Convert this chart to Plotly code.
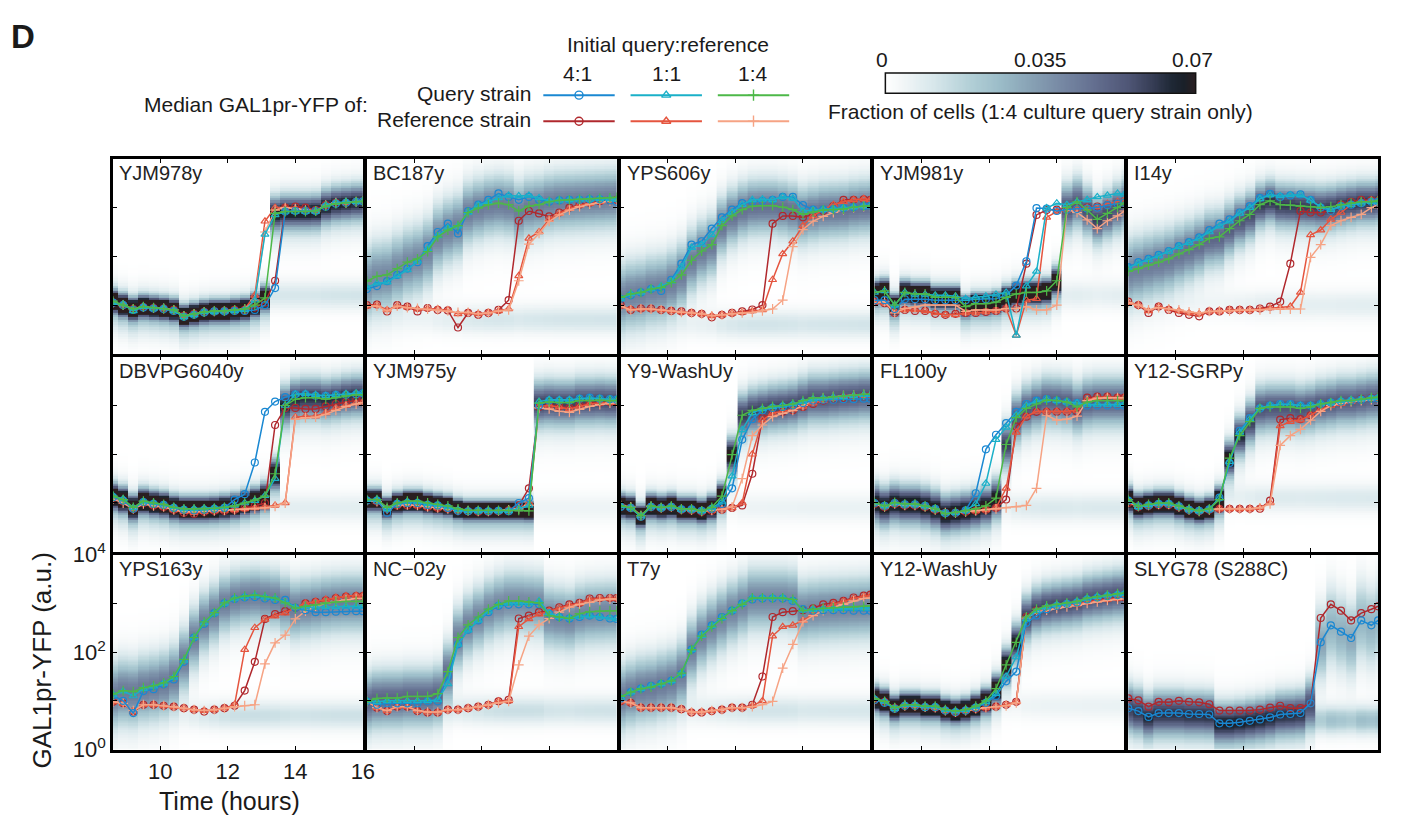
import numpy as np
import plotly.graph_objects as go

W, H = 1403, 835
FONT = "Liberation Sans, Arial, Helvetica, sans-serif"

# sampling times (hours)
TIME_H = [8.6, 8.9, 9.2, 9.5, 9.8, 10.1, 10.4, 10.7, 11.0, 11.3, 11.6, 11.9, 12.2,
          12.5, 12.8, 13.1, 13.4, 13.7, 14.0, 14.3, 14.6, 14.9, 15.2, 15.5, 15.8, 16.0]

STRAINS = ["YJM978y", "BC187y", "YPS606y", "YJM981y", "I14y",
           "DBVPG6040y", "YJM975y", "Y9-WashUy", "FL100y", "Y12-SGRPy",
           "YPS163y", "NC\u221202y", "T7y", "Y12-WashUy", "SLYG78 (S288C)"]

# median GAL1pr-YFP, log10 a.u. -- query strain, initial ratio 4:1
QUERY_4_1 = {
    "YJM978y": [1.05, 1.0, 0.9, 0.95, 0.93, 0.92, 0.88, 0.76, 0.8, 0.85, 0.87, 0.87, 0.88, 0.88, 0.9, 1.0, 1.35, 2.92, 2.93, 2.93, 2.93, 3.02, 3.08, 3.1, 3.12, 3.13],
    "BC187y": [1.33, 1.39, 1.49, 1.62, 1.75, 1.88, 2.21, 2.5, 2.67, 2.47, 2.93, 3.06, 3.16, 3.29, 3.22, 3.16, 3.22, 3.16, 3.12, 3.15, 3.16, 3.16, 3.17, 3.17, 3.15, 3.12],
    "YPS606y": [1.13, 1.2, 1.26, 1.33, 1.29, 1.52, 1.85, 2.24, 2.31, 2.57, 2.8, 2.96, 3.09, 3.12, 3.14, 3.16, 3.22, 3.22, 3.05, 2.96, 2.96, 2.97, 2.99, 3.01, 3.03, 3.04],
    "YJM981y": [1.1, 1.1, 0.92, 1.12, 1.12, 1.12, 1.1, 1.1, 1.1, 1.1, 1.12, 1.12, 1.13, 1.2, 1.4, 1.9, 2.99, 2.98, 2.93, 2.96, 2.97, 2.98, 3.0, 3.05, 3.08, 3.1],
    "I14y": [1.78, 1.88, 1.95, 2.03, 2.11, 2.21, 2.29, 2.39, 2.54, 2.67, 2.76, 2.9, 3.03, 3.2, 3.28, 3.22, 3.25, 3.27, 3.16, 3.0, 2.93, 3.03, 3.06, 3.09, 3.12, 3.12],
    "DBVPG6040y": [1.12, 1.05, 0.88, 1.02, 0.98, 0.96, 0.9, 0.86, 0.85, 0.86, 0.88, 0.9, 1.07, 1.18, 1.83, 2.87, 3.08, 3.17, 3.23, 3.23, 3.2, 3.2, 3.22, 3.22, 3.23, 3.25],
    "YJM975y": [1.05, 1.05, 0.8, 0.98, 1.0, 1.0, 0.96, 0.95, 0.9, 0.84, 0.83, 0.84, 0.83, 0.84, 0.83, 1.0, 1.1, 3.0, 3.1, 3.1, 3.1, 3.14, 3.16, 3.14, 3.13, 3.12],
    "Y9-WashUy": [0.92, 0.9, 0.72, 0.92, 0.9, 0.92, 0.87, 0.87, 0.84, 0.88, 0.98, 1.3, 2.3, 2.72, 2.9, 2.95, 2.97, 3.0, 3.05, 3.1, 3.12, 3.12, 3.13, 3.13, 3.14, 3.14],
    "FL100y": [1.0, 0.94, 1.0, 0.97, 0.97, 0.94, 0.88, 0.79, 0.8, 0.85, 1.2, 2.1, 2.4, 2.64, 2.87, 3.03, 3.1, 3.13, 3.1, 3.07, 3.05, 3.0, 3.0, 3.0, 3.0, 3.0],
    "Y12-SGRPy": [1.05, 0.93, 0.95, 0.98, 0.98, 0.93, 0.86, 0.84, 0.87, 1.11, 1.82, 2.48, 2.74, 2.94, 3.0, 3.03, 3.03, 3.0, 3.0, 3.03, 3.06, 3.08, 3.1, 3.12, 3.14, 3.15],
    "YPS163y": [1.11, 1.0, 0.75, 1.2, 1.24, 1.34, 1.44, 1.8, 2.3, 2.58, 2.8, 3.0, 3.09, 3.12, 3.13, 3.1, 3.07, 3.07, 2.91, 2.86, 2.82, 2.82, 2.83, 2.84, 2.84, 2.84],
    "NC\u221202y": [0.99, 0.92, 0.95, 0.95, 0.95, 0.95, 0.99, 0.99, 1.5, 2.16, 2.46, 2.65, 2.82, 2.95, 2.97, 2.98, 2.98, 2.98, 2.79, 2.72, 2.69, 2.72, 2.75, 2.72, 2.69, 2.68],
    "T7y": [1.05, 1.18, 1.25, 1.31, 1.35, 1.41, 1.55, 2.05, 2.36, 2.55, 2.72, 2.85, 3.0, 3.08, 3.1, 3.1, 3.1, 3.05, 2.88, 2.85, 2.86, 2.86, 2.86, 2.85, 2.85, 2.85],
    "Y12-WashUy": [1.02, 0.96, 0.84, 0.9, 0.9, 0.87, 0.87, 0.8, 0.77, 0.8, 0.86, 0.96, 1.1, 1.4, 1.6, 2.6, 2.75, 2.88, 2.95, 2.99, 3.02, 3.08, 3.12, 3.15, 3.17, 3.18],
    "SLYG78 (S288C)": [0.85, 0.79, 0.67, 0.75, 0.75, 0.75, 0.73, 0.73, 0.72, 0.54, 0.54, 0.56, 0.59, 0.62, 0.66, 0.72, 0.73, 0.75, 0.95, 2.2, 2.55, 2.42, 2.29, 2.65, 2.55, 2.65],
}

# query strain, initial ratio 1:1
QUERY_1_1 = {
    "YJM978y": [1.05, 1.02, 0.88, 0.97, 0.93, 0.94, 0.88, 0.76, 0.8, 0.86, 0.86, 0.87, 0.88, 0.9, 1.1, 2.45, 2.85, 2.92, 2.92, 2.92, 2.92, 3.05, 3.1, 3.12, 3.12, 3.13],
    "BC187y": [1.36, 1.45, 1.47, 1.6, 1.72, 1.9, 2.15, 2.42, 2.58, 2.62, 2.9, 3.05, 3.12, 3.2, 3.25, 3.24, 3.25, 3.2, 3.14, 3.15, 3.16, 3.17, 3.17, 3.18, 3.18, 3.17],
    "YPS606y": [1.13, 1.23, 1.26, 1.33, 1.39, 1.49, 1.78, 2.18, 2.24, 2.44, 2.73, 2.9, 3.06, 3.16, 3.17, 3.16, 3.22, 3.19, 2.93, 2.95, 2.96, 2.97, 2.99, 3.01, 3.03, 3.04],
    "YJM981y": [1.26, 1.29, 1.0, 1.26, 1.22, 1.22, 1.2, 1.2, 1.18, 1.13, 1.16, 1.18, 1.22, 1.26, 0.38, 1.39, 1.69, 2.99, 3.09, 3.06, 3.12, 3.16, 3.22, 3.25, 3.29, 3.27],
    "I14y": [1.76, 1.86, 1.93, 2.01, 2.1, 2.2, 2.28, 2.37, 2.5, 2.62, 2.72, 2.88, 3.0, 3.18, 3.26, 3.24, 3.26, 3.26, 3.15, 3.02, 2.96, 3.03, 3.06, 3.09, 3.12, 3.12],
    "DBVPG6040y": [1.15, 1.08, 0.9, 1.03, 1.0, 0.97, 0.92, 0.88, 0.88, 0.89, 0.9, 0.92, 0.95, 1.0, 1.05, 1.15, 1.5, 3.0, 3.23, 3.24, 3.22, 3.2, 3.22, 3.24, 3.25, 3.25],
    "YJM975y": [1.07, 1.07, 0.88, 1.0, 1.03, 1.02, 0.98, 0.96, 0.92, 0.86, 0.84, 0.84, 0.84, 0.84, 0.84, 0.88, 0.95, 3.08, 3.12, 3.12, 3.12, 3.14, 3.15, 3.14, 3.13, 3.12],
    "Y9-WashUy": [0.94, 0.9, 0.73, 0.93, 0.9, 0.93, 0.87, 0.87, 0.84, 0.9, 1.02, 1.55, 2.5, 2.85, 2.93, 2.97, 3.0, 3.03, 3.08, 3.13, 3.15, 3.17, 3.18, 3.2, 3.22, 3.22],
    "FL100y": [1.0, 0.94, 1.0, 0.97, 0.97, 0.94, 0.88, 0.79, 0.8, 0.85, 0.98, 1.4, 2.3, 2.55, 2.8, 3.0, 3.08, 3.12, 3.1, 3.07, 3.05, 3.02, 3.02, 3.02, 3.02, 3.02],
    "Y12-SGRPy": [1.06, 0.92, 0.96, 0.99, 0.99, 0.93, 0.87, 0.84, 0.87, 1.1, 1.85, 2.45, 2.72, 2.95, 3.0, 3.02, 3.02, 3.0, 3.0, 3.03, 3.06, 3.1, 3.12, 3.13, 3.15, 3.16],
    "YPS163y": [1.12, 1.2, 1.1, 1.25, 1.3, 1.36, 1.48, 1.83, 2.3, 2.6, 2.8, 3.0, 3.1, 3.14, 3.16, 3.13, 3.1, 3.03, 2.92, 2.92, 2.92, 2.93, 2.93, 2.94, 2.94, 2.94],
    "NC\u221202y": [1.0, 0.98, 1.0, 1.0, 1.0, 1.0, 1.0, 1.02, 1.35, 2.16, 2.45, 2.65, 2.84, 2.97, 3.0, 3.0, 3.0, 3.05, 2.8, 2.73, 2.7, 2.73, 2.74, 2.72, 2.7, 2.68],
    "T7y": [1.07, 1.18, 1.25, 1.3, 1.35, 1.41, 1.56, 2.05, 2.34, 2.54, 2.7, 2.85, 3.0, 3.12, 3.12, 3.12, 3.12, 3.06, 2.86, 2.87, 2.88, 2.88, 2.9, 2.9, 2.9, 2.9],
    "Y12-WashUy": [1.05, 0.99, 0.84, 0.92, 0.92, 0.89, 0.89, 0.82, 0.79, 0.82, 0.88, 0.98, 1.15, 1.5, 1.9, 2.68, 2.85, 2.93, 2.97, 3.0, 3.04, 3.1, 3.14, 3.17, 3.19, 3.2],
}

# query strain, initial ratio 1:4
QUERY_1_4 = {
    "YJM978y": [1.08, 1.0, 0.92, 0.97, 0.95, 0.93, 0.9, 0.78, 0.82, 0.86, 0.88, 0.88, 0.9, 0.92, 1.0, 1.15, 2.88, 2.92, 2.92, 2.92, 2.93, 3.03, 3.08, 3.1, 3.12, 3.13],
    "BC187y": [1.49, 1.59, 1.62, 1.75, 1.88, 1.95, 2.1, 2.4, 2.54, 2.63, 2.9, 2.99, 3.06, 3.09, 3.06, 2.93, 3.03, 3.06, 3.12, 3.15, 3.16, 3.17, 3.18, 3.19, 3.2, 3.21],
    "YPS606y": [1.16, 1.23, 1.26, 1.33, 1.36, 1.46, 1.62, 1.92, 2.11, 2.24, 2.63, 2.83, 2.96, 3.03, 3.04, 3.04, 3.01, 2.96, 2.86, 2.91, 2.95, 2.96, 2.97, 3.01, 3.03, 3.04],
    "YJM981y": [1.26, 1.29, 1.0, 1.26, 1.23, 1.23, 1.16, 1.16, 1.16, 0.97, 1.03, 1.03, 1.06, 1.16, 1.23, 1.26, 1.26, 1.29, 1.5, 3.0, 3.12, 2.95, 2.76, 2.88, 3.0, 3.09],
    "I14y": [1.69, 1.75, 1.82, 1.88, 1.95, 2.05, 2.14, 2.24, 2.37, 2.4, 2.57, 2.73, 2.86, 3.06, 3.14, 3.06, 3.05, 3.03, 3.02, 3.0, 3.02, 3.06, 3.09, 3.12, 3.12, 3.14],
    "DBVPG6040y": [1.14, 1.07, 0.91, 1.04, 1.0, 0.97, 0.91, 0.88, 0.88, 0.88, 0.89, 0.91, 0.94, 1.0, 1.06, 1.14, 1.6, 3.0, 3.13, 3.16, 3.16, 3.13, 3.16, 3.2, 3.22, 3.22],
    "YJM975y": [1.07, 1.07, 0.91, 1.0, 1.04, 1.04, 1.0, 0.97, 0.94, 0.88, 0.85, 0.85, 0.85, 0.85, 0.85, 0.85, 0.84, 3.05, 3.07, 3.06, 3.06, 3.1, 3.1, 3.11, 3.1, 3.1],
    "Y9-WashUy": [0.94, 0.91, 0.74, 0.94, 0.91, 0.94, 0.88, 0.88, 0.84, 0.91, 1.14, 1.99, 2.8, 2.9, 2.94, 2.98, 3.0, 3.03, 3.1, 3.16, 3.16, 3.18, 3.2, 3.21, 3.23, 3.23],
    "FL100y": [1.01, 0.94, 1.01, 0.98, 0.98, 0.94, 0.88, 0.78, 0.81, 0.84, 0.88, 0.94, 1.1, 2.2, 2.75, 2.94, 3.03, 3.11, 3.1, 3.07, 2.97, 3.07, 3.1, 3.1, 3.1, 3.1],
    "Y12-SGRPy": [1.07, 0.94, 0.97, 1.0, 1.0, 0.94, 0.88, 0.84, 0.88, 1.07, 1.92, 2.38, 2.67, 2.94, 2.97, 2.97, 2.97, 2.94, 2.97, 3.03, 3.06, 3.1, 3.1, 3.13, 3.16, 3.17],
    "YPS163y": [1.14, 1.21, 1.19, 1.27, 1.31, 1.37, 1.5, 1.85, 2.3, 2.62, 2.81, 3.01, 3.11, 3.15, 3.17, 3.14, 3.11, 3.01, 2.9, 2.94, 2.97, 3.01, 3.03, 3.04, 3.04, 3.04],
    "NC\u221202y": [0.99, 1.05, 1.06, 1.06, 1.09, 1.09, 1.09, 1.15, 1.6, 2.3, 2.56, 2.72, 2.88, 2.98, 3.05, 3.05, 3.03, 3.01, 2.75, 2.72, 2.69, 2.79, 2.83, 2.84, 2.85, 2.85],
    "T7y": [1.09, 1.18, 1.25, 1.28, 1.35, 1.41, 1.57, 2.05, 2.33, 2.52, 2.69, 2.85, 2.98, 3.11, 3.11, 3.11, 3.11, 3.08, 2.85, 2.88, 2.9, 2.91, 2.92, 2.93, 2.94, 2.95],
    "Y12-WashUy": [1.05, 0.99, 0.86, 0.92, 0.92, 0.89, 0.89, 0.82, 0.79, 0.82, 0.89, 1.0, 1.25, 1.74, 2.2, 2.72, 2.88, 2.95, 2.98, 3.01, 3.04, 3.11, 3.14, 3.17, 3.2, 3.21],
}

# reference strain, initial ratio 4:1
REF_4_1 = {
    "YJM978y": [1.05, 1.0, 0.92, 0.96, 0.94, 0.93, 0.9, 0.78, 0.82, 0.86, 0.87, 0.88, 0.9, 0.9, 0.95, 1.05, 1.5, 3.0, 3.02, 3.0, 2.95, 3.05, 3.1, 3.1, 3.12, 3.13],
    "BC187y": [1.0, 1.01, 0.87, 1.0, 0.97, 0.87, 0.94, 0.9, 0.89, 0.54, 0.84, 0.8, 0.84, 0.9, 1.1, 2.73, 2.93, 2.88, 2.82, 2.9, 3.0, 3.06, 3.1, 3.13, 3.15, 3.16],
    "YPS606y": [1.0, 0.9, 0.93, 0.93, 0.9, 0.88, 0.87, 0.84, 0.82, 0.75, 0.8, 0.84, 0.87, 0.91, 1.0, 2.67, 2.83, 2.83, 2.8, 2.86, 2.93, 3.03, 3.16, 3.16, 3.17, 3.16],
    "YJM981y": [1.07, 1.04, 0.84, 0.9, 0.88, 0.88, 0.82, 0.8, 0.82, 0.84, 0.84, 0.86, 0.88, 0.93, 0.93, 1.85, 2.85, 2.95, 2.96, 2.97, 2.98, 3.0, 3.02, 3.05, 3.08, 3.1],
    "I14y": [1.07, 1.0, 0.84, 0.97, 0.9, 0.84, 0.8, 0.77, 0.87, 0.87, 0.9, 0.9, 0.9, 0.93, 0.97, 1.07, 1.85, 2.93, 2.9, 2.9, 2.93, 3.06, 3.12, 3.16, 3.15, 3.12],
    "DBVPG6040y": [1.1, 1.03, 0.88, 1.0, 0.95, 0.92, 0.86, 0.8, 0.78, 0.82, 0.84, 0.84, 0.86, 0.9, 0.94, 1.0, 2.6, 2.95, 2.95, 2.93, 2.93, 2.98, 3.03, 3.07, 3.1, 3.12],
    "YJM975y": [1.05, 1.03, 0.88, 0.95, 0.95, 0.95, 0.92, 0.9, 0.88, 0.84, 0.83, 0.82, 0.82, 0.83, 0.85, 0.95, 1.3, 2.97, 3.0, 2.98, 2.95, 3.0, 3.05, 3.06, 3.07, 3.08],
    "Y9-WashUy": [0.93, 0.9, 0.73, 0.92, 0.9, 0.92, 0.86, 0.85, 0.82, 0.84, 0.86, 0.9, 0.95, 1.6, 2.74, 2.84, 2.87, 2.9, 2.97, 3.03, 3.1, 3.13, 3.16, 3.18, 3.2, 3.2],
    "FL100y": [0.98, 0.92, 0.98, 0.95, 0.95, 0.92, 0.86, 0.8, 0.8, 0.82, 0.84, 0.86, 0.9, 1.07, 2.57, 2.77, 2.87, 2.87, 2.87, 2.87, 2.87, 3.16, 3.18, 3.18, 3.16, 3.16],
    "Y12-SGRPy": [1.0, 0.92, 0.94, 0.96, 0.96, 0.92, 0.86, 0.83, 0.86, 0.88, 0.88, 0.88, 0.88, 0.88, 1.05, 2.71, 2.74, 2.72, 2.8, 2.94, 3.03, 3.06, 3.1, 3.13, 3.15, 3.16],
    "YPS163y": [0.98, 0.95, 0.78, 0.92, 0.92, 0.9, 0.88, 0.85, 0.82, 0.78, 0.82, 0.85, 0.9, 1.21, 1.8, 2.68, 2.78, 2.84, 2.91, 3.0, 3.03, 3.06, 3.11, 3.14, 3.15, 3.15],
    "NC\u221202y": [0.99, 0.86, 0.79, 0.88, 0.88, 0.79, 0.76, 0.76, 0.82, 0.82, 0.85, 0.88, 0.92, 0.99, 1.02, 2.69, 2.75, 2.82, 2.85, 2.92, 2.98, 3.01, 3.1, 3.11, 3.11, 3.11],
    "T7y": [0.99, 0.96, 0.86, 0.86, 0.86, 0.86, 0.83, 0.76, 0.76, 0.79, 0.82, 0.86, 0.86, 0.92, 1.5, 2.72, 2.82, 2.84, 2.86, 2.9, 2.98, 3.01, 3.05, 3.12, 3.16, 3.18],
    "Y12-WashUy": [1.02, 0.98, 0.85, 0.9, 0.9, 0.87, 0.86, 0.8, 0.76, 0.8, 0.84, 0.86, 0.88, 0.92, 0.98, 2.72, 2.85, 2.9, 2.95, 2.98, 3.0, 3.05, 3.08, 3.1, 3.12, 3.13],
    "SLYG78 (S288C)": [1.05, 1.01, 0.88, 0.98, 0.97, 1.0, 0.98, 0.97, 0.93, 0.8, 0.8, 0.8, 0.8, 0.82, 0.86, 0.9, 0.85, 0.85, 0.95, 2.7, 2.98, 2.85, 2.65, 2.8, 2.88, 2.94],
}

# reference strain, initial ratio 1:1
REF_1_1 = {
    "YJM978y": [1.05, 1.0, 0.92, 0.96, 0.94, 0.93, 0.9, 0.78, 0.82, 0.86, 0.87, 0.88, 0.9, 0.92, 1.2, 2.72, 3.0, 3.0, 2.98, 2.95, 2.93, 3.05, 3.1, 3.1, 3.12, 3.13],
    "BC187y": [0.98, 1.0, 0.9, 0.98, 0.96, 0.92, 0.93, 0.92, 0.9, 0.82, 0.85, 0.82, 0.85, 0.88, 0.92, 1.6, 2.37, 2.5, 2.76, 2.88, 2.98, 3.05, 3.08, 3.12, 3.15, 3.16],
    "YPS606y": [0.98, 0.92, 0.92, 0.92, 0.9, 0.88, 0.86, 0.84, 0.82, 0.78, 0.8, 0.83, 0.85, 0.88, 0.9, 1.52, 2.05, 2.31, 2.63, 2.83, 2.96, 3.06, 3.12, 3.16, 3.18, 3.16],
    "YJM981y": [1.07, 1.04, 0.88, 0.9, 0.9, 0.88, 0.84, 0.8, 0.8, 0.84, 0.84, 0.86, 0.88, 0.93, 0.38, 1.1, 1.13, 2.8, 2.92, 2.95, 2.97, 3.0, 3.02, 3.08, 3.12, 3.15],
    "I14y": [1.05, 1.0, 0.88, 0.97, 0.92, 0.88, 0.84, 0.82, 0.87, 0.87, 0.9, 0.9, 0.9, 0.92, 0.94, 0.95, 0.97, 1.26, 2.44, 2.54, 2.76, 2.9, 3.06, 3.12, 3.15, 3.16],
    "DBVPG6040y": [1.1, 1.03, 0.88, 1.0, 0.95, 0.92, 0.86, 0.82, 0.8, 0.82, 0.84, 0.85, 0.86, 0.88, 0.9, 0.92, 0.95, 1.0, 2.76, 2.78, 2.78, 2.85, 2.95, 3.0, 3.05, 3.07],
    "YJM975y": [1.05, 1.03, 0.88, 0.96, 0.96, 0.95, 0.92, 0.9, 0.88, 0.85, 0.84, 0.83, 0.83, 0.84, 0.86, 0.88, 1.0, 2.98, 3.0, 2.97, 2.93, 2.98, 3.03, 3.05, 3.06, 3.07],
    "Y9-WashUy": [0.95, 0.92, 0.74, 0.93, 0.9, 0.92, 0.87, 0.86, 0.83, 0.85, 0.87, 0.9, 1.0, 2.0, 2.7, 2.84, 2.88, 2.92, 2.98, 3.05, 3.1, 3.14, 3.17, 3.19, 3.2, 3.21],
    "FL100y": [0.98, 0.92, 0.98, 0.95, 0.95, 0.92, 0.86, 0.8, 0.8, 0.82, 0.84, 0.86, 0.9, 1.3, 2.45, 2.78, 2.88, 2.88, 2.88, 2.88, 2.9, 3.12, 3.16, 3.18, 3.16, 3.16],
    "Y12-SGRPy": [1.02, 0.93, 0.95, 0.97, 0.97, 0.92, 0.86, 0.83, 0.86, 0.88, 0.88, 0.88, 0.88, 0.9, 1.0, 2.58, 2.67, 2.7, 2.8, 2.92, 3.0, 3.04, 3.08, 3.12, 3.14, 3.15],
    "YPS163y": [0.98, 0.95, 0.78, 0.92, 0.92, 0.9, 0.88, 0.85, 0.82, 0.8, 0.82, 0.85, 0.92, 2.05, 2.5, 2.67, 2.74, 2.8, 2.92, 3.0, 3.04, 3.08, 3.12, 3.15, 3.16, 3.16],
    "NC\u221202y": [0.99, 0.86, 0.8, 0.88, 0.88, 0.8, 0.77, 0.77, 0.82, 0.82, 0.85, 0.88, 0.92, 0.99, 1.0, 2.52, 2.68, 2.78, 2.84, 2.9, 2.96, 3.0, 3.08, 3.1, 3.1, 3.1],
    "T7y": [0.99, 0.96, 0.86, 0.86, 0.86, 0.86, 0.83, 0.77, 0.77, 0.8, 0.82, 0.86, 0.86, 0.9, 1.0, 2.33, 2.52, 2.55, 2.65, 2.78, 2.9, 2.98, 3.04, 3.1, 3.14, 3.16],
    "Y12-WashUy": [1.03, 0.98, 0.85, 0.9, 0.9, 0.87, 0.86, 0.8, 0.77, 0.8, 0.84, 0.86, 0.88, 0.92, 0.98, 2.7, 2.83, 2.88, 2.93, 2.96, 2.98, 3.03, 3.06, 3.08, 3.1, 3.12],
}

# reference strain, initial ratio 1:4
REF_1_4 = {
    "YJM978y": [1.05, 1.0, 0.92, 0.96, 0.94, 0.93, 0.9, 0.78, 0.82, 0.86, 0.87, 0.88, 0.9, 0.92, 1.1, 2.5, 2.95, 3.0, 2.98, 2.95, 2.93, 3.05, 3.1, 3.1, 3.12, 3.13],
    "BC187y": [0.98, 0.98, 0.88, 0.98, 0.95, 0.93, 0.92, 0.9, 0.88, 0.85, 0.85, 0.82, 0.84, 0.88, 0.9, 1.5, 2.25, 2.47, 2.72, 2.85, 2.95, 3.02, 3.07, 3.1, 3.14, 3.16],
    "YPS606y": [0.98, 0.9, 0.92, 0.92, 0.9, 0.88, 0.85, 0.84, 0.82, 0.78, 0.8, 0.83, 0.84, 0.85, 0.88, 0.92, 1.1, 2.2, 2.55, 2.72, 2.82, 2.9, 2.96, 3.0, 3.02, 3.02],
    "YJM981y": [1.05, 1.07, 0.84, 0.93, 0.96, 1.0, 1.0, 1.0, 1.0, 0.87, 0.9, 0.9, 0.9, 0.93, 0.93, 0.97, 0.9, 0.9, 1.0, 2.96, 2.9, 2.75, 2.57, 2.73, 2.83, 2.93],
    "I14y": [1.05, 1.0, 0.9, 0.95, 0.92, 0.9, 0.86, 0.84, 0.87, 0.88, 0.88, 0.9, 0.9, 0.9, 0.92, 0.92, 0.92, 0.92, 1.98, 2.24, 2.63, 2.73, 2.8, 2.86, 3.0, 3.06],
    "DBVPG6040y": [1.08, 1.0, 0.88, 0.98, 0.94, 0.92, 0.86, 0.82, 0.82, 0.83, 0.84, 0.85, 0.86, 0.87, 0.88, 0.9, 0.93, 1.0, 2.72, 2.75, 2.76, 2.82, 2.9, 2.98, 3.03, 3.06],
    "YJM975y": [1.05, 1.03, 0.88, 0.96, 0.96, 0.95, 0.92, 0.9, 0.88, 0.85, 0.84, 0.83, 0.83, 0.84, 0.86, 0.88, 0.95, 2.95, 2.93, 2.88, 2.86, 2.92, 2.98, 3.02, 3.05, 3.06],
    "Y9-WashUy": [0.95, 0.92, 0.74, 0.93, 0.9, 0.92, 0.87, 0.86, 0.83, 0.85, 0.87, 0.92, 1.5, 2.38, 2.6, 2.77, 2.84, 2.9, 3.0, 3.1, 3.15, 3.18, 3.2, 3.21, 3.22, 3.22],
    "FL100y": [0.98, 0.92, 0.98, 0.95, 0.95, 0.92, 0.86, 0.8, 0.8, 0.82, 0.84, 0.86, 0.88, 0.9, 0.92, 0.95, 1.3, 2.8, 2.7, 2.72, 2.78, 3.1, 3.15, 3.16, 3.16, 3.16],
    "Y12-SGRPy": [1.02, 0.93, 0.95, 0.97, 0.97, 0.92, 0.86, 0.83, 0.86, 0.88, 0.88, 0.88, 0.88, 0.9, 0.98, 2.18, 2.38, 2.51, 2.7, 2.88, 3.0, 3.04, 3.08, 3.1, 3.12, 3.13],
    "YPS163y": [0.98, 0.95, 0.8, 0.92, 0.92, 0.9, 0.88, 0.85, 0.82, 0.8, 0.82, 0.85, 0.88, 0.9, 0.92, 1.76, 2.19, 2.35, 2.68, 2.84, 2.94, 3.0, 3.04, 3.07, 3.1, 3.1],
    "NC\u221202y": [0.99, 0.86, 0.8, 0.88, 0.88, 0.8, 0.77, 0.77, 0.82, 0.82, 0.85, 0.88, 0.92, 0.96, 0.99, 1.74, 2.33, 2.56, 2.69, 2.82, 2.92, 2.98, 3.02, 3.07, 3.09, 3.09],
    "T7y": [0.99, 0.96, 0.86, 0.86, 0.86, 0.86, 0.83, 0.77, 0.77, 0.8, 0.82, 0.86, 0.86, 0.88, 0.92, 0.99, 1.67, 2.16, 2.62, 2.75, 2.85, 2.92, 2.98, 3.05, 3.1, 3.11],
    "Y12-WashUy": [1.03, 0.98, 0.85, 0.9, 0.9, 0.87, 0.86, 0.8, 0.77, 0.8, 0.84, 0.86, 0.88, 0.9, 0.96, 2.7, 2.82, 2.86, 2.9, 2.93, 2.96, 3.0, 3.03, 3.06, 3.08, 3.1],
}

# single-cell spread of the 1:4 query culture (log10 units):
# width while uninduced, width once induced, level and share of the uninduced tail
SPREAD_LOW = {"YJM978y": 0.12, "BC187y": 0.45, "YPS606y": 0.42, "YJM981y": 0.11, "I14y": 0.42,
              "DBVPG6040y": 0.14, "YJM975y": 0.1, "Y9-WashUy": 0.12, "FL100y": 0.22, "Y12-SGRPy": 0.13,
              "YPS163y": 0.4, "NC\u221202y": 0.35, "T7y": 0.4, "Y12-WashUy": 0.13, "SLYG78 (S288C)": 0.25}
SPREAD_HIGH = {"YJM978y": 0.22, "BC187y": 0.35, "YPS606y": 0.33, "YJM981y": 0.3, "I14y": 0.25,
               "DBVPG6040y": 0.25, "YJM975y": 0.28, "Y9-WashUy": 0.3, "FL100y": 0.3, "Y12-SGRPy": 0.3,
               "YPS163y": 0.35, "NC\u221202y": 0.38, "T7y": 0.38, "Y12-WashUy": 0.3, "SLYG78 (S288C)": 0.5}
OFF_LEVEL = {"YJM978y": 1.2, "BC187y": 0.7, "YPS606y": 0.6, "YJM981y": 1.2, "I14y": 1.0,
             "DBVPG6040y": 0.9, "YJM975y": 0.9, "Y9-WashUy": 0.9, "FL100y": 0.9, "Y12-SGRPy": 1.1,
             "YPS163y": 0.7, "NC\u221202y": 0.8, "T7y": 0.8, "Y12-WashUy": 0.9, "SLYG78 (S288C)": 0.6}
OFF_WEIGHT = {"YJM978y": 0.12, "BC187y": 0.12, "YPS606y": 0.12, "YJM981y": 0.08, "I14y": 0.08,
              "DBVPG6040y": 0.08, "YJM975y": 0.05, "Y9-WashUy": 0.06, "FL100y": 0.1, "Y12-SGRPy": 0.1,
              "YPS163y": 0.14, "NC\u221202y": 0.14, "T7y": 0.12, "Y12-WashUy": 0.06, "SLYG78 (S288C)": 0.25}

SERIES = [
    (REF_4_1, "#b0282d", "circle-open"),
    (REF_1_1, "#e5553f", "triangle-up-open"),
    (REF_1_4, "#f6a384", "cross-thin"),
    (QUERY_4_1, "#1a88d2", "circle-open"),
    (QUERY_1_1, "#1ab0c8", "triangle-up-open"),
    (QUERY_1_4, "#4db848", "cross-thin"),
]

CELL_SCALE = [[0.0, "#ffffff"], [0.05, "#f3f7f8"], [0.15, "#d9e8ec"], [0.27, "#b3d0d7"],
              [0.37, "#9bbcc8"], [0.47, "#87a1b4"], [0.57, "#7688a3"], [0.67, "#646f90"],
              [0.78, "#4f5676"], [0.86, "#363d55"], [0.92, "#1f2836"], [0.96, "#1a2029"],
              [1.0, "#2a1e20"]]
Z_MAX = 0.07

BIN_W = 0.05
Y_BINS = np.arange(BIN_W / 2, 4.0, BIN_W)


def gauss(y, mu, s):
    return np.exp(-0.5 * ((y - mu) / s) ** 2) / (s * np.sqrt(2 * np.pi))


def cell_fraction(strain):
    """Fraction of cells per (time, log-YFP) bin: a tight core at the culture
    median, a wider tail trailing below it, and a small uninduced sub-population."""
    c = np.asarray(QUERY_1_4.get(strain, QUERY_4_1[strain]), dtype=float)
    span = max(c.max() - c.min(), 1e-6)
    frac = np.clip((c - c.min()) / span, 0, 1)
    sig = SPREAD_LOW[strain] + (SPREAD_HIGH[strain] - SPREAD_LOW[strain]) * frac
    w = OFF_WEIGHT[strain] * frac
    yb = Y_BINS[:, None]
    core = gauss(yb, c[None, :], sig[None, :])
    tail = gauss(yb, c[None, :] - 0.12, sig[None, :] + 0.18)
    main = 0.65 * core + 0.35 * tail
    off = gauss(yb, OFF_LEVEL[strain], 0.2)
    return ((1 - w)[None, :] * main + w[None, :] * off) * BIN_W


# panel geometry (pixels)
LEFT0, PW, STEP_X = 114, 252, 256
TOP0, PH, STEP_Y = 148, 202, 205


def fx(px):
    return px / W


def fy(py):
    return 1 - py / H


fig = go.Figure()
lay = {}
for i, strain in enumerate(STRAINS):
    r, c = divmod(i, 5)
    n = i + 1
    xa, ya = ("x", "y") if n == 1 else (f"x{n}", f"y{n}")
    x0 = LEFT0 + c * STEP_X
    y0 = TOP0 + r * STEP_Y

    fig.add_trace(go.Heatmap(x=TIME_H, y=Y_BINS, z=cell_fraction(strain), colorscale=CELL_SCALE,
                             zmin=0, zmax=Z_MAX, showscale=False, hoverinfo="skip",
                             xaxis=xa, yaxis=ya))
    for data, color, symbol in SERIES:
        if strain not in data:
            continue
        fig.add_trace(go.Scatter(
            x=TIME_H, y=data[strain], mode="lines+markers", xaxis=xa, yaxis=ya,
            line=dict(color=color, width=1.5),
            marker=dict(symbol=symbol, size=7, color=color, line=dict(color=color, width=1.2)),
            showlegend=False, hoverinfo="skip"))

    corner = (i == 10)
    tick_style = dict(ticks="inside", ticklen=4, tickwidth=1, tickcolor="black")
    lay["xaxis" if n == 1 else f"xaxis{n}"] = dict(
        domain=[fx(x0), fx(x0 + PW)], range=[8.6, 16.0], anchor=ya,
        showline=True, linecolor="black", linewidth=2.5, mirror="ticks",
        tickvals=[10, 12, 14, 16], showticklabels=corner, **tick_style,
        tickfont=dict(family=FONT, size=22, color="#1a1a1a"),
        showgrid=False, zeroline=False, fixedrange=True)
    lay["yaxis" if n == 1 else f"yaxis{n}"] = dict(
        domain=[fy(y0 + PH), fy(y0)], range=[0, 4], anchor=xa,
        showline=True, linecolor="black", linewidth=2.5, mirror="ticks",
        tickvals=[0, 2, 4], ticktext=["10<sup>0</sup>", "10<sup>2</sup>", "10<sup>4</sup>"],
        minor=dict(tickvals=[1, 3], **tick_style),
        showticklabels=corner, **tick_style,
        tickfont=dict(family=FONT, size=22, color="#1a1a1a"),
        showgrid=False, zeroline=False, fixedrange=True)

annotations = []
for i, strain in enumerate(STRAINS):
    r, c = divmod(i, 5)
    annotations.append(dict(x=fx(LEFT0 + c * STEP_X + 4), y=fy(TOP0 + r * STEP_Y + 1),
                            xref="paper", yref="paper", xanchor="left", yanchor="top",
                            text=strain, showarrow=False,
                            font=dict(family=FONT, size=20, color="#222222")))

# legend key drawn on a full-figure pixel axis
LEG = 16
lay[f"xaxis{LEG}"] = dict(domain=[0, 1], range=[0, W], visible=False, anchor=f"y{LEG}", fixedrange=True)
lay[f"yaxis{LEG}"] = dict(domain=[0, 1], range=[H, 0], visible=False, anchor=f"x{LEG}", fixedrange=True)
KEY_X = [(548, 620), (636, 708), (724, 796)]
KEY_Y = {"query": 82, "ref": 109}
for k, (data, color, symbol) in enumerate(SERIES):
    row = "ref" if k < 3 else "query"
    xs = KEY_X[k % 3]
    yk = KEY_Y[row]
    fig.add_trace(go.Scatter(x=list(xs), y=[yk, yk], mode="lines", line=dict(color=color, width=2),
                             xaxis=f"x{LEG}", yaxis=f"y{LEG}", showlegend=False, hoverinfo="skip"))
    fig.add_trace(go.Scatter(x=[(xs[0] + xs[1]) / 2], y=[yk], mode="markers",
                             marker=dict(symbol=symbol, size=8, color=color, line=dict(color=color, width=1.4)),
                             xaxis=f"x{LEG}", yaxis=f"y{LEG}", showlegend=False, hoverinfo="skip"))

# colour key for the cell-fraction heatmaps
CB = 17
CB_X0, CB_X1, CB_Y0, CB_Y1 = 893, 1206, 59, 80
KEY_LEVELS = np.linspace(0, Z_MAX, 256)
lay[f"xaxis{CB}"] = dict(domain=[fx(CB_X0), fx(CB_X1)], range=[0, Z_MAX], visible=False,
                         anchor=f"y{CB}", fixedrange=True)
lay[f"yaxis{CB}"] = dict(domain=[fy(CB_Y1), fy(CB_Y0)], range=[-0.5, 0.5], visible=False,
                         anchor=f"x{CB}", fixedrange=True)
fig.add_trace(go.Heatmap(x=KEY_LEVELS, y=[0], z=[KEY_LEVELS], colorscale=CELL_SCALE, zmin=0, zmax=Z_MAX,
                         showscale=False, hoverinfo="skip", xaxis=f"x{CB}", yaxis=f"y{CB}"))
shapes = [dict(type="rect", xref="paper", yref="paper", x0=fx(CB_X0), x1=fx(CB_X1),
               y0=fy(CB_Y1), y1=fy(CB_Y0), line=dict(color="#111111", width=1.5))]


def label(text, x, y, size=21, xanchor="center", yanchor="middle", bold=False, angle=0):
    annotations.append(dict(x=fx(x), y=fy(y), xref="paper", yref="paper", text=text,
                            showarrow=False, xanchor=xanchor, yanchor=yanchor, textangle=angle,
                            font=dict(family=FONT, size=size, color="#1a1a1a",
                                      weight="bold" if bold else "normal")))


label("D", 9, 21, size=33, xanchor="left", bold=True)
label("Initial query:reference", 674, 30)
label("4:1", 582, 60)
label("1:1", 672, 60)
label("1:4", 760, 60)
label("Query strain", 538, 80, xanchor="right")
label("Reference strain", 538, 107, xanchor="right")
label("Median GAL1pr-YFP of:", 143, 92, xanchor="left")
label("0", 890, 45)
label("0.035", 1049, 45)
label("0.07", 1203, 45)
label("Fraction of cells (1:4 culture query strain only)", 833, 99, xanchor="left")
label("Time (hours)", 231, 813, size=25)
label("GAL1pr-YFP (a.u.)", 42, 668, size=26, angle=-90)

fig.update_layout(width=W, height=H, margin=dict(l=0, r=0, t=0, b=0),
                  paper_bgcolor="white", plot_bgcolor="rgba(0,0,0,0)",
                  showlegend=False, annotations=annotations, shapes=shapes, **lay)

fig.write_html("out.html")
